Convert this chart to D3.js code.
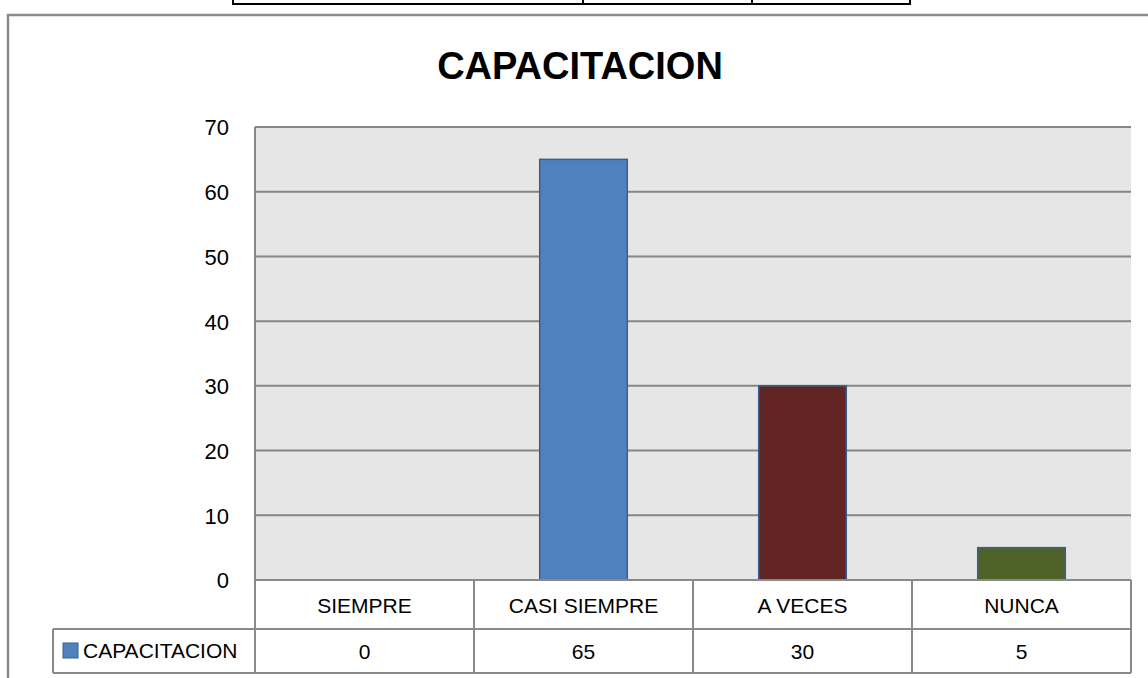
<!DOCTYPE html>
<html><head><meta charset="utf-8">
<script src="https://cdn.jsdelivr.net/npm/d3@7"></script>
<style>body{margin:0;background:#fff}svg{display:block}</style>
</head><body>
<script>
const categories = ["SIEMPRE", "CASI SIEMPRE", "A VECES", "NUNCA"];
const values = [0, 65, 30, 5];
const barColors = ["#4F81BD", "#4F81BD", "#632523", "#4F6228"];
const yTicks = [0, 10, 20, 30, 40, 50, 60, 70];
const seriesName = "CAPACITACION";
const title = "CAPACITACION";

const W = 1148, H = 678;
const svg = d3.select("body").append("svg").attr("width", W).attr("height", H);
const font = "'Liberation Sans', Arial, sans-serif";

// fragment of table above the chart
const topTable = svg.append("g").attr("stroke", "#000").attr("stroke-width", 2);
topTable.append("line").attr("x1", 233).attr("x2", 911).attr("y1", 4).attr("y2", 4);
[233, 583, 752, 910].forEach(x => topTable.append("line").attr("x1", x).attr("x2", x).attr("y1", 0).attr("y2", 5));

// chart outer border
svg.append("path").attr("d", "M8,690 L8,15 L1150,15").attr("fill", "none")
  .attr("stroke", "#8a8a8a").attr("stroke-width", 2.5);

const L = 255, R = 1131, T = 127, B = 580;
const x = d3.scaleBand().domain(categories).range([L, R]).paddingInner(0).paddingOuter(0);
const y = d3.scaleLinear().domain([0, 70]).range([B, T]);

svg.append("rect").attr("x", L).attr("y", T).attr("width", R - L).attr("height", B - T).attr("fill", "#e6e6e6");

// gridlines
svg.append("g").selectAll("line").data(yTicks).join("line")
  .attr("x1", L).attr("x2", R).attr("y1", d => y(d)).attr("y2", d => y(d))
  .attr("stroke", "#868686").attr("stroke-width", 2);
svg.append("line").attr("x1", L).attr("x2", L).attr("y1", T).attr("y2", B).attr("stroke", "#868686").attr("stroke-width", 2);

// y axis labels
const yAxis = d3.axisLeft(y).tickValues(yTicks).tickSize(0).tickPadding(0);
const ya = svg.append("g").attr("transform", `translate(${L - 26},0)`).call(yAxis);
ya.select(".domain").remove();
ya.selectAll("text").attr("font-family", font).attr("font-size", 22).attr("fill", "#000").attr("dy", "0.36em");

// bars
const bw = x.bandwidth() * 0.4;
svg.append("g").selectAll("rect").data(values).join("rect")
  .attr("x", (d, i) => x(categories[i]) + x.bandwidth() / 2 - bw / 2)
  .attr("y", d => y(d)).attr("width", bw).attr("height", d => y(0) - y(d))
  .attr("fill", (d, i) => barColors[i])
  .attr("stroke", "#3B5F8C").attr("stroke-width", d => d > 0 ? 1.5 : 0);

// data table
const rowTop = B, rowMid = 629, rowBot = 673, legendLeft = 53;
const tg = svg.append("g").attr("stroke", "#8a8a8a").attr("stroke-width", 2).attr("fill", "none");
tg.append("line").attr("x1", L).attr("x2", R).attr("y1", rowTop).attr("y2", rowTop);
tg.append("line").attr("x1", legendLeft).attr("x2", R).attr("y1", rowMid).attr("y2", rowMid);
tg.append("line").attr("x1", legendLeft).attr("x2", R).attr("y1", rowBot).attr("y2", rowBot);
tg.append("line").attr("x1", legendLeft).attr("x2", legendLeft).attr("y1", rowMid).attr("y2", rowBot);
const edges = categories.map(c => x(c)).concat([R]);
tg.selectAll("line.v").data(edges).join("line").attr("class", "v")
  .attr("x1", d => d).attr("x2", d => d).attr("y1", rowTop).attr("y2", rowBot);

svg.append("g").selectAll("text").data(categories).join("text")
  .attr("x", d => x(d) + x.bandwidth() / 2).attr("y", 613)
  .attr("text-anchor", "middle").attr("font-family", font).attr("font-size", 21).text(d => d);
svg.append("g").selectAll("text").data(values).join("text")
  .attr("x", (d, i) => x(categories[i]) + x.bandwidth() / 2).attr("y", 659)
  .attr("text-anchor", "middle").attr("font-family", font).attr("font-size", 21).text(d => d);

// legend key
svg.append("rect").attr("x", 63).attr("y", 643).attr("width", 15).attr("height", 15)
  .attr("fill", barColors[0]).attr("stroke", "#3B5F8C").attr("stroke-width", 1);
svg.append("text").attr("x", 83).attr("y", 658).attr("font-family", font).attr("font-size", 21).text(seriesName);

// title
svg.append("text").attr("x", 580).attr("y", 79).attr("text-anchor", "middle")
  .attr("font-family", font).attr("font-weight", "bold").attr("font-size", 38).text(title);
</script>
</body></html>
